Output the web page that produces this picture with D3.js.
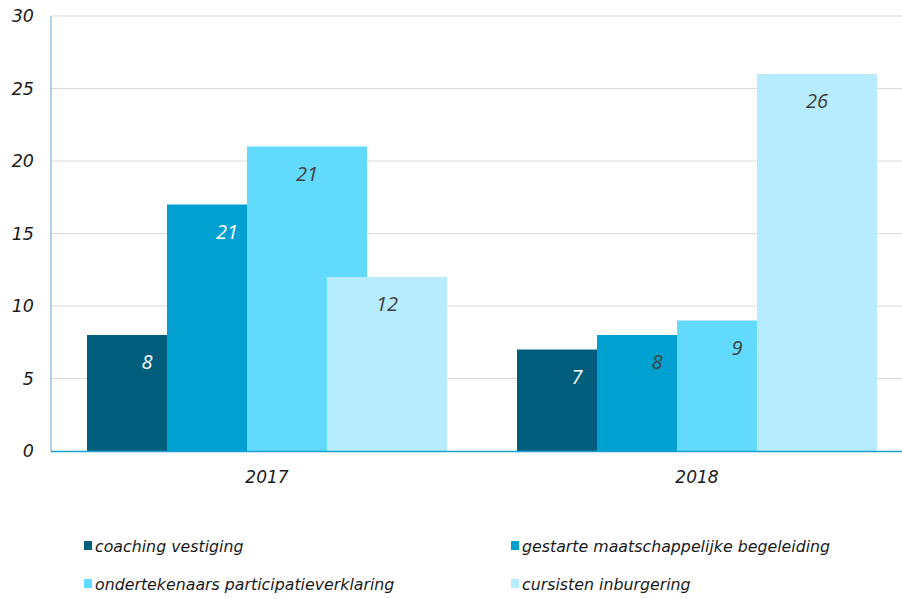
<!DOCTYPE html>
<html>
<head>
<meta charset="utf-8">
<script src="https://cdn.jsdelivr.net/npm/d3@7"></script>
<style>
  body { margin: 0; background: #fff; }
  svg text { font-style: italic; }
</style>
</head>
<body>
<svg id="chart" width="902" height="599"></svg>
<script>
// chart data
const years = ['2017', '2018']
const series = ['coaching vestiging', 'gestarte maatschappelijke begeleiding',
                'ondertekenaars participatieverklaring', 'cursisten inburgering']
const colors = ['#005e7d', '#00a1d0', '#62dafe', '#b6ecfd']
const values2017 = [8, 17, 21, 12]
const values2018 = [7, 8, 9, 26]
// labels as printed on the bars
const labels2017 = ['8', '21', '21', '12']
const labels2018 = ['7', '8', '9', '26']
const labelColors2017 = ['#fff', '#fff', '#404040', '#404040']
const labelColors2018 = ['#fff', '#404040', '#404040', '#404040']
const yTicks = [0, 5, 10, 15, 20, 25, 30]

const svg = d3.select('#chart')
const plotLeft = 51, plotTop = 16, plotBottom = 451

const x = d3.scaleBand().domain(years).range([plotLeft + 1, plotLeft + 861])
const y = d3.scaleLinear().domain([0, 30]).range([plotBottom, plotTop])

// gridlines
svg.append('g').selectAll('line')
    .data(yTicks.filter(d => d > 0))
    .join('line')
    .attr('x1', plotLeft).attr('x2', 902)
    .attr('y1', d => y(d)).attr('y2', d => y(d))
    .attr('stroke', '#d9d9d9').attr('stroke-width', 1)

// y tick labels
svg.append('g').selectAll('text')
    .data(yTicks)
    .join('text')
    .attr('x', 34)
    .attr('y', d => y(d) + 6)
    .attr('text-anchor', 'end')
    .attr('font-family', 'DejaVu Sans')
    .attr('font-size', 17.5)
    .attr('fill', '#1a1a1a')
    .text(d => d)

// bars: Excel-like overlap, 120 wide with 80 step
const step = 80, barW = 120
const groups = [
    {year: '2017', values: values2017, labels: labels2017, lc: labelColors2017},
    {year: '2018', values: values2018, labels: labels2018, lc: labelColors2018}
]
groups.forEach(g => {
    const c = x(g.year) + x.bandwidth() / 2
    const start = c - (step * 3 + barW) / 2
    const pts = g.values.map((v, i) => ({v: v, i: i, label: g.labels[i], lc: g.lc[i]}))
    const gg = svg.append('g')
    gg.selectAll('rect')
        .data(pts)
        .join('rect')
        .attr('x', d => start + d.i * step)
        .attr('width', barW)
        .attr('y', d => y(d.v))
        .attr('height', d => y(0) - y(d.v))
        .attr('fill', d => colors[d.i])
    gg.selectAll('text')
        .data(pts)
        .join('text')
        .attr('x', d => start + d.i * step + barW / 2)
        .attr('y', d => y(d.v) + 34)
        .attr('text-anchor', 'middle')
        .attr('font-family', 'Open Sans')
        .attr('font-size', 20)
        .attr('fill', d => d.lc)
        .text(d => d.label)
})

// axes lines
svg.append('line')
    .attr('x1', plotLeft).attr('x2', plotLeft).attr('y1', plotTop).attr('y2', plotBottom)
    .attr('stroke', '#7fb3e0').attr('stroke-width', 1.2)
svg.append('line')
    .attr('x1', plotLeft).attr('x2', 902).attr('y1', plotBottom + 0.5).attr('y2', plotBottom + 0.5)
    .attr('stroke', '#1a9fd0').attr('stroke-width', 1.5)

// category labels
svg.append('g').selectAll('text')
    .data(years)
    .join('text')
    .attr('x', d => x(d) + x.bandwidth() / 2)
    .attr('y', 483)
    .attr('text-anchor', 'middle')
    .attr('font-family', 'DejaVu Sans')
    .attr('font-size', 17)
    .attr('fill', '#1a1a1a')
    .text(d => d)

// legend
const legendPos = [[84, 546], [511, 546], [84, 584], [511, 584]]
const legend = svg.append('g').selectAll('g')
    .data(series)
    .join('g')
    .attr('transform', (d, i) => `translate(${legendPos[i][0]},${legendPos[i][1]})`)
legend.append('rect')
    .attr('x', 0).attr('y', -5).attr('width', 8).attr('height', 9)
    .attr('fill', (d, i) => colors[i])
legend.append('text')
    .attr('x', 11).attr('y', 6)
    .attr('font-family', 'DejaVu Sans')
    .attr('font-size', 15.8)
    .attr('fill', '#1a1a1a')
    .text(d => d)
</script>
</body>
</html>
